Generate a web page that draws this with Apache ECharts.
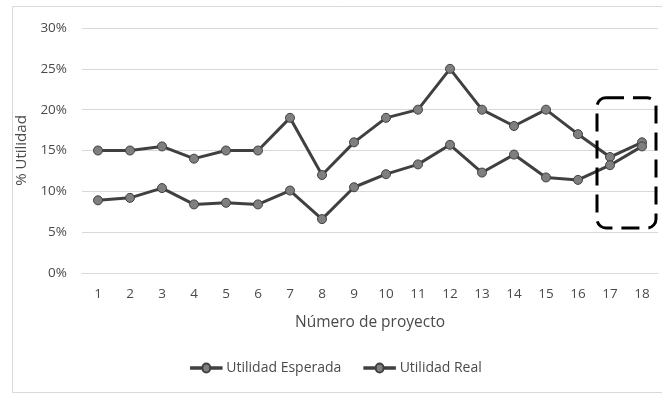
<!DOCTYPE html>
<html>
<head>
<meta charset="utf-8">
<script src="https://cdn.jsdelivr.net/npm/echarts@6/dist/echarts.min.js"></script>
<style>
  html, body { margin: 0; padding: 0; background: #fff; }
  #chart { width: 662px; height: 395px; }
</style>
</head>
<body>
<div id="chart"></div>
<script>
// Project numbers on the x axis
const proyectos = ['1','2','3','4','5','6','7','8','9','10','11','12','13','14','15','16','17','18'];
// Expected profit per project (%)
const utilidadEsperada = [15, 15, 15.5, 14, 15, 15, 19, 12, 16, 19, 20, 25, 20, 18, 20, 17, 14.2, 16];
// Actual profit per project (%)
const utilidadReal = [8.9, 9.2, 10.4, 8.4, 8.6, 8.4, 10.1, 6.6, 10.5, 12.1, 13.3, 15.7, 12.3, 14.5, 11.7, 11.4, 13.2, 15.5];
// Y axis range and step (%)
const yMin = 0, yMax = 30, yStep = 5;
// Projects enclosed by the dashed highlight box
const resaltados = ['17', '18'];

const FONT = '"Open Sans", "Liberation Sans", sans-serif';
const TXT = '#4a4a4a';
const LINE = '#404040';
const MARK = '#7f7f7f';

// Legend icon: thick line with a circle marker in the middle
const ICONO = 'path://M0,4.2 L13.5,4.2 A4.5,4.5 0 0 1 22.5,4.2 L36,4.2 L36,5.8 L22.5,5.8 A4.5,4.5 0 0 1 13.5,5.8 L0,5.8 Z';

const chart = echarts.init(document.getElementById('chart'), null, { renderer: 'canvas' });

function serie(name, data) {
  return {
    name: name,
    type: 'line',
    data: data,
    symbol: 'circle',
    symbolSize: 9,
    lineStyle: { color: LINE, width: 3 },
    itemStyle: { color: MARK, borderColor: LINE, borderWidth: 1 },
    emphasis: { disabled: true },
    z: 3
  };
}

chart.setOption({
  animation: false,
  backgroundColor: '#ffffff',
  textStyle: { fontFamily: FONT },
  grid: { left: 82, right: 4, top: 28, bottom: 122, containLabel: false },
  legend: {
    bottom: 15,
    left: 185,
    itemWidth: 36,
    itemHeight: 9,
    itemGap: 22,
    textStyle: { color: TXT, fontSize: 14, fontFamily: FONT, padding: [0, 0, 0, -3] },
    data: [
      { name: 'Utilidad Esperada', icon: ICONO },
      { name: 'Utilidad Real', icon: ICONO }
    ]
  },
  xAxis: {
    type: 'category',
    data: proyectos,
    boundaryGap: true,
    name: 'Número de proyecto',
    nameLocation: 'middle',
    nameGap: 42,
    nameTextStyle: { color: TXT, fontSize: 15.5, fontFamily: FONT },
    axisLine: { lineStyle: { color: '#d9d9d9', width: 1 } },
    axisTick: { show: false },
    axisLabel: { color: TXT, fontSize: 13.5, margin: 14 },
    splitLine: { show: false }
  },
  yAxis: {
    type: 'value',
    min: yMin,
    max: yMax,
    interval: yStep,
    name: '% Utilidad',
    nameLocation: 'middle',
    nameGap: 52,
    nameTextStyle: { color: TXT, fontSize: 15, fontFamily: FONT },
    axisLine: { show: false },
    axisTick: { show: false },
    axisLabel: { color: TXT, fontSize: 13.5, margin: 15, formatter: v => v + '%' },
    splitLine: { lineStyle: { color: '#d9d9d9', width: 1 } }
  },
  series: [serie('Utilidad Esperada', utilidadEsperada), serie('Utilidad Real', utilidadReal)]
});

// Outer chart border and dashed highlight box around the last projects
const p0 = chart.convertToPixel({ xAxisIndex: 0, yAxisIndex: 0 }, [resaltados[0], 20]);
const p1 = chart.convertToPixel({ xAxisIndex: 0, yAxisIndex: 0 }, [resaltados[resaltados.length - 1], 6]);
chart.setOption({
  graphic: [
    {
      type: 'rect',
      shape: { x: 12.5, y: 6.5, width: 670, height: 386 },
      style: { fill: 'none', stroke: '#d9d9d9', lineWidth: 1 },
      silent: true, z: 0
    },
    {
      type: 'rect',
      shape: { x: p0[0] - 13, y: p0[1] - 12, width: (p1[0] - p0[0]) + 27, height: (p1[1] - p0[1]) + 16, r: 9 },
      style: { fill: 'none', stroke: '#000000', lineWidth: 3, lineDash: [18, 9] },
      silent: true, z: 10
    }
  ]
});
</script>
</body>
</html>
